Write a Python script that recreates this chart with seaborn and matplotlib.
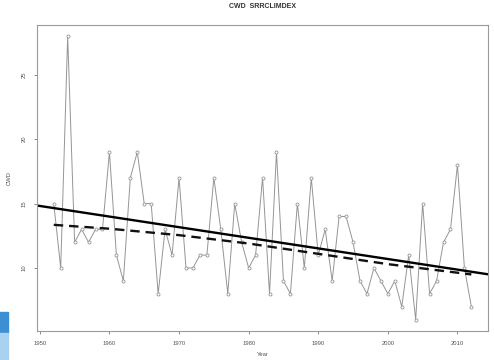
import numpy as np
import pandas as pd
import matplotlib
matplotlib.use("Agg")
import matplotlib.pyplot as plt
from matplotlib.patches import Rectangle
import seaborn as sns

# ---------------------------------------------------------------
# data (CWD index, 1952-2012)
# ---------------------------------------------------------------
years = list(range(1952, 2013))
cwd = [15, 10, 28, 12, 13, 12, 13, 13, 19, 11,
       9, 17, 19, 15, 15, 8, 13, 11, 17, 10,
       10, 11, 11, 17, 13, 8, 15, 12, 10, 11,
       17, 8, 19, 9, 8, 15, 10, 17, 11, 13,
       9, 14, 14, 12, 9, 8, 10, 9, 8, 9,
       7, 11, 6, 15, 8, 9, 12, 13, 18, 10,
       7]

# smoothed (dashed) trend, read at a few years
smooth_years = [1952, 1960, 1970, 1980, 1990, 2000, 2012]
smooth_vals = [13.35, 13.05, 12.55, 11.9, 11.1, 10.3, 9.5]

x_ticks = [1950, 1960, 1970, 1980, 1990, 2000, 2010]
y_ticks = [10, 15, 20, 25]

df = pd.DataFrame({"Year": years, "CWD": cwd})
smooth = pd.DataFrame({"Year": smooth_years, "CWD": smooth_vals})

sns.set_theme(style="white")
plt.rcParams["font.family"] = ["Liberation Sans", "DejaVu Sans"]

fig = plt.figure(figsize=(4.94, 3.60), dpi=100)
ax = fig.add_axes([0.075, 0.081, 0.913, 0.850])

# R-style limits (range extended 4%)
ax.set_xlim(1949.6, 2014.4)
ax.set_ylim(5.12, 28.88)

sns.lineplot(data=df, x="Year", y="CWD", ax=ax, color="#959595", lw=0.7,
             marker="o", markersize=2.2, markerfacecolor="white",
             markeredgecolor="#959595", markeredgewidth=0.6)

# OLS trend across the full plot width
sns.regplot(data=df, x="Year", y="CWD", ax=ax, scatter=False, ci=None,
            truncate=False, line_kws={"color": "black", "lw": 1.7})

sns.lineplot(data=smooth, x="Year", y="CWD", ax=ax, color="#111111", lw=1.7,
             linestyle=(0, (4, 2.5)))

ax.set_xlim(1949.6, 2014.4)
ax.set_ylim(5.12, 28.88)

ax.set_xticks(x_ticks)
ax.set_yticks(y_ticks)
ax.set_xticklabels([str(t) for t in x_ticks], fontsize=4.2, color="#555555")
ax.set_yticklabels([str(t) for t in y_ticks], fontsize=4.2, color="#555555",
                   rotation=90, va="center")
ax.tick_params(axis="both", length=2.5, width=0.6, color="#777777", pad=5,
               bottom=True, left=True)

for s in ax.spines.values():
    s.set_color("#9a9a9a")
    s.set_linewidth(0.8)

ax.set_xlabel("Year", fontsize=4.2, color="#555555", labelpad=4)
ax.set_ylabel("CWD", fontsize=4.2, color="#555555", labelpad=7)
ax.set_title("CWD  SRRCLIMDEX", fontsize=5, fontweight="bold",
             color="#333333", pad=12)

# blue strip at lower-left edge of the screenshot
fig.patches.append(Rectangle((0, 27 / 360), 8 / 494, 21 / 360,
                             transform=fig.transFigure, color="#3b8fd2"))
fig.patches.append(Rectangle((0, 0), 8 / 494, 27 / 360,
                             transform=fig.transFigure, color="#a9d2f0"))

fig.savefig("out.png", dpi=100)
